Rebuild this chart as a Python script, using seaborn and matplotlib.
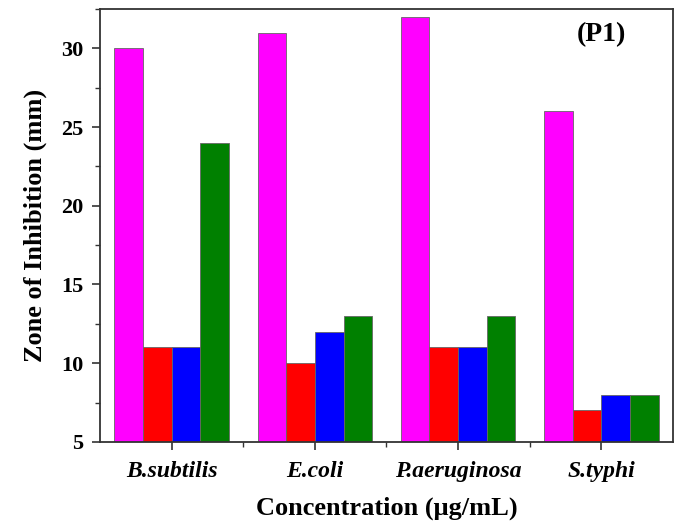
import matplotlib
matplotlib.use("Agg")
import matplotlib.pyplot as plt
import seaborn as sns
import pandas as pd
from matplotlib.ticker import MultipleLocator, FixedLocator

categories = ["B.subtilis", "E.coli", "P.aeruginosa", "S.typhi"]
series_names = ["S1", "S2", "S3", "S4"]
s1 = [30, 31, 32, 26]
s2 = [11, 10, 11, 7]
s3 = [11, 12, 11, 8]
s4 = [24, 13, 13, 8]
colors = ["#FF00FF", "#FF0000", "#0000FF", "#008000"]

rows = []
for name, vals in zip(series_names, [s1, s2, s3, s4]):
    for c, v in zip(categories, vals):
        rows.append({"Organism": c, "Series": name, "Value": v})
df = pd.DataFrame(rows)

sns.set_style("ticks")
plt.rcParams['font.family'] = ['Liberation Serif', 'DejaVu Serif']
plt.rcParams['font.weight'] = 'bold'
plt.rcParams['text.color'] = 'black'
plt.rcParams['axes.labelcolor'] = 'black'
plt.rcParams['xtick.labelcolor'] = 'black'
plt.rcParams['ytick.labelcolor'] = 'black'

fig = plt.figure(figsize=(6.81, 5.28), dpi=100)
ax = fig.add_axes([0.147, 0.163, 0.841, 0.820])

sns.barplot(data=df, x="Organism", y="Value", hue="Series", order=categories,
            hue_order=series_names, palette=colors, saturation=1, width=0.8, gap=0,
            edgecolor="#666666", linewidth=0.6, legend=False, ax=ax, errorbar=None)

ax.set_xlim(-0.5, 3.5)
ax.set_ylim(5, 32.5)
ax.yaxis.set_major_locator(FixedLocator([5, 10, 15, 20, 25, 30]))
ax.yaxis.set_minor_locator(MultipleLocator(2.5))
ax.xaxis.set_minor_locator(FixedLocator([0.5, 1.5, 2.5]))

for sp in ax.spines.values():
    sp.set_visible(True)
    sp.set_linewidth(1.3)
    sp.set_color("#333333")

ax.tick_params(axis='both', which='major', direction='out', length=6, width=1.2,
               color="#333333", labelcolor="black")
ax.tick_params(axis='both', which='minor', direction='out', length=3.5, width=1.0, color="#333333")
ax.tick_params(axis='y', labelsize=16, pad=6)
ax.tick_params(axis='x', labelsize=17, pad=8)
for lbl in ax.get_yticklabels():
    lbl.set_fontweight('bold')
for lbl in ax.get_xticklabels():
    lbl.set_fontweight('bold')
    lbl.set_fontstyle('italic')

ax.set_xlabel("Concentration (μg/mL)", fontsize=19, fontweight='bold', labelpad=10, color="black")
ax.set_ylabel("Zone of Inhibition (mm)", fontsize=19, fontweight='bold', labelpad=10, color="black")

ax.text(3.0, 30.85, "(P1)", fontsize=20, fontweight='bold', ha='center', va='center', color="black")

fig.savefig("out.png", dpi=100)
